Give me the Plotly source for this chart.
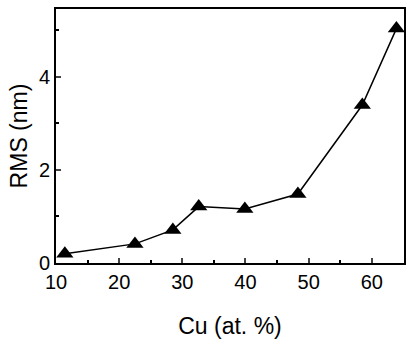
import plotly.graph_objects as go

cu = [11.4, 22.5, 28.5, 32.6, 39.9, 48.3, 58.5, 63.9]
rms = [0.20, 0.41, 0.71, 1.21, 1.16, 1.48, 3.39, 5.03]
x_ticks = [10, 20, 30, 40, 50, 60]
y_ticks = [0, 2, 4]

fig = go.Figure()
fig.add_trace(go.Scatter(
    x=cu, y=rms, mode="lines+markers",
    line=dict(color="black", width=1.5),
    marker=dict(symbol="triangle-up", size=15, color="black"),
    showlegend=False, cliponaxis=False,
))

font = "Liberation Sans, Arial, sans-serif"
fig.update_layout(
    width=414, height=347,
    margin=dict(l=56, r=10, t=9, b=84, autoexpand=False),
    paper_bgcolor="white", plot_bgcolor="white",
    font=dict(family=font, color="black"),
)
fig.update_xaxes(
    range=[10, 65.1], tickvals=x_ticks, ticks="inside", ticklen=5, tickwidth=1.5,
    showline=True, linecolor="black", linewidth=2, mirror=True,
    showgrid=False, zeroline=False, tickfont=dict(size=20), automargin=False,
    minor=dict(tickvals=[15, 25, 35, 45, 55, 65], ticks="inside", ticklen=3, tickwidth=1.5, tickcolor="black"),
    title=dict(text="Cu (at. %)", font=dict(size=23), standoff=26),
)
fig.update_yaxes(
    range=[0, 5.45], tickvals=y_ticks, ticks="inside", ticklen=5, tickwidth=1.5,
    showline=True, linecolor="black", linewidth=2, mirror=True,
    showgrid=False, zeroline=False, tickfont=dict(size=20), automargin=False,
    minor=dict(tickvals=[1, 3, 5], ticks="inside", ticklen=3, tickwidth=1.5, tickcolor="black"),
    title=dict(text="RMS (nm)", font=dict(size=23), standoff=5),
)
fig.write_html("out.html", config={"displayModeBar": False},
               post_script="document.body.style.margin='0';document.body.style.overflow='hidden';")
